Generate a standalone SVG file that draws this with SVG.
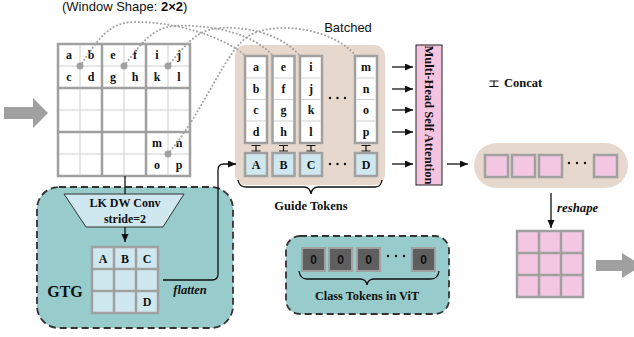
<svg xmlns="http://www.w3.org/2000/svg" width="634" height="337" viewBox="0 0 634 337">
<defs>
<style>
.sb{font-family:"Liberation Serif","Times New Roman",serif;font-weight:bold;fill:#111}
.sr{font-family:"Liberation Serif","Times New Roman",serif;fill:#111}
.sa{font-family:"Liberation Sans",Arial,sans-serif;fill:#111}
.c{text-anchor:middle}
.lt{font-size:12px}
.thick{fill:none;stroke:#a0a0a0;stroke-width:2.5}
.thin{fill:none;stroke:#cfcfcf;stroke-width:1}
.col{fill:#fff;stroke:#a0a0a0;stroke-width:2.5}
.tok{fill:#cfe7ee;stroke:#a0a0a0;stroke-width:2.5}
.pk{fill:#f3c7e1;stroke:#a0a0a0;stroke-width:2.5}
.ct{fill:#5e5e5e;stroke:#a0a0a0;stroke-width:2}
.tan{fill:#e7d8ce}
.teal{fill:#98cbcb;stroke:#333;stroke-width:1.8;stroke-dasharray:7 4}
.dot{fill:none;stroke:#a3a3a3;stroke-width:2;stroke-dasharray:0.1 3.6;stroke-linecap:round}
.ln{fill:none;stroke:#111;stroke-width:1.3}
.cc{fill:none;stroke:#111;stroke-width:1.2}
</style>
<marker id="ah" markerUnits="userSpaceOnUse" markerWidth="9" markerHeight="8" refX="8" refY="3.5" orient="auto">
<path d="M0,0 L8,3.5 L0,7 z" fill="#111"/>
</marker>
<g id="cat"><path d="M-4.5,0 H4.5 M0,0 V5.5 M-4.5,5.5 H4.5" class="cc"/></g>
</defs>
<rect width="634" height="337" fill="#fff"/>

<text x="62" y="11" class="sa" font-size="13">(Window Shape: <tspan font-weight="bold">2×2</tspan>)</text>

<g id="input-arrow"><polygon points="4,107 33,107 33,98 48,113 33,128 33,119 4,119" fill="#a0a0a0"/></g>

<g id="input-grid">
<rect x="58" y="44" width="132" height="132" fill="#fff"/>
<path class="thin" d="M80,44V176 M124,44V176 M168,44V176 M58,66H190 M58,110H190 M58,154H190"/>
<path class="thick" d="M58,44H190V176H58Z M102,44V176 M146,44V176 M58,88H190 M58,132H190"/>
<g class="sb c lt">
<text x="69" y="59">a</text><text x="91" y="59">b</text><text x="69" y="81">c</text><text x="91" y="81">d</text>
<text x="113" y="59">e</text><text x="135" y="59">f</text><text x="113" y="81">g</text><text x="135" y="81">h</text>
<text x="157" y="59">i</text><text x="179" y="59">j</text><text x="157" y="81">k</text><text x="179" y="81">l</text>
<text x="157" y="147">m</text><text x="179" y="147">n</text><text x="157" y="169">o</text><text x="179" y="169">p</text>
</g>
<g fill="#a0a0a0"><circle cx="80" cy="66" r="3.5"/><circle cx="124" cy="66" r="3.5"/><circle cx="168" cy="66" r="3.5"/><circle cx="168" cy="154" r="3.5"/></g>
</g>

<g id="batched">
<text x="348" y="32" class="sa c" font-size="13">Batched</text>
<rect x="235" y="45" width="150" height="140" rx="11" class="tan"/>
<g>
<rect x="245" y="56" width="22" height="87" class="col"/>
<rect x="272.5" y="56" width="22" height="87" class="col"/>
<rect x="300" y="56" width="22" height="87" class="col"/>
<rect x="355" y="56" width="22" height="87" class="col"/>
<path class="thin" d="M246.5,78H265.5 M246.5,99.5H265.5 M246.5,121H265.5 M274,78H293 M274,99.5H293 M274,121H293 M301.5,78H320.5 M301.5,99.5H320.5 M301.5,121H320.5 M356.5,78H375.5 M356.5,99.5H375.5 M356.5,121H375.5"/>
<g class="sb c lt">
<text x="256" y="71">a</text><text x="256" y="93">b</text><text x="256" y="114">c</text><text x="256" y="136">d</text>
<text x="283.5" y="71">e</text><text x="283.5" y="93">f</text><text x="283.5" y="114">g</text><text x="283.5" y="136">h</text>
<text x="311" y="71">i</text><text x="311" y="93">j</text><text x="311" y="114">k</text><text x="311" y="136">l</text>
<text x="366" y="71">m</text><text x="366" y="93">n</text><text x="366" y="114">o</text><text x="366" y="136">p</text>
</g>
<use href="#cat" x="256" y="145.5"/><use href="#cat" x="283.5" y="145.5"/><use href="#cat" x="311" y="145.5"/><use href="#cat" x="366" y="145.5"/>
<rect x="245" y="153" width="22" height="23" class="tok"/>
<rect x="272.5" y="153" width="22" height="23" class="tok"/>
<rect x="300" y="153" width="22" height="23" class="tok"/>
<rect x="355" y="153" width="22" height="23" class="tok"/>
<g class="sb c lt">
<text x="256" y="169">A</text><text x="283.5" y="169">B</text><text x="311" y="169">C</text><text x="366" y="169">D</text>
</g>
<g fill="#111"><circle cx="330" cy="98" r="1.2"/><circle cx="337.5" cy="98" r="1.2"/><circle cx="345" cy="98" r="1.2"/>
<circle cx="330" cy="164" r="1.2"/><circle cx="337.5" cy="164" r="1.2"/><circle cx="345" cy="164" r="1.2"/></g>
</g>
<path class="ln" d="M238,180 Q239,187 246,187 L304,187 Q310,187 311,194 Q312,187 318,187 L375,187 Q381,187 382,180"/>
<text x="311" y="210" class="sb c" font-size="12.5">Guide Tokens</text>
</g>

<g id="mhsa">
<rect x="416" y="45" width="26" height="140" fill="#f4c5e1" stroke="#222" stroke-width="1"/>
<text transform="translate(429,115) rotate(90)" class="sb c" font-size="12.5" y="4.5">Multi-Head Self Attention</text>
</g>

<g id="legend">
<use href="#cat" x="494" y="81"/>
<text x="504" y="87" class="sb" font-size="12.5">Concat</text>
</g>

<g id="output-seq">
<rect x="474" y="143" width="154" height="45" rx="22.5" class="tan"/>
<rect x="485" y="155" width="23" height="22" class="pk"/>
<rect x="512" y="155" width="23" height="22" class="pk"/>
<rect x="539" y="155" width="23" height="22" class="pk"/>
<rect x="594" y="155" width="23" height="22" class="pk"/>
<g fill="#111"><circle cx="569" cy="163" r="1.2"/><circle cx="577" cy="163" r="1.2"/><circle cx="585" cy="163" r="1.2"/></g>
</g>

<g id="output-grid">
<rect x="517" y="231" width="66" height="66" fill="#f3c7e1"/>
<path class="thick" d="M517,231H583V297H517Z M539,231V297 M561,231V297 M517,253H583 M517,275H583"/>
</g>

<g id="output-arrow"><polygon points="596,260 622,260 622,253 642,265.5 622,278 622,271 596,271" fill="#a0a0a0"/></g>

<g id="gtg">
<rect x="37" y="187" width="196" height="141" rx="22" class="teal"/>
<polygon points="64,194 184,194 163,227 86,227" fill="#cfe7ee" stroke="#333" stroke-width="1"/>
<text x="125" y="207" class="sb c" font-size="12">LK DW Conv</text>
<text x="125" y="223" class="sb c" font-size="12">stride=2</text>
<rect x="92" y="247" width="66" height="66" fill="#cfe7ee"/>
<path class="thick" d="M92,247H158V313H92Z M114,247V313 M136,247V313 M92,269H158 M92,291H158"/>
<g class="sb c lt"><text x="103" y="263">A</text><text x="125" y="263">B</text><text x="147" y="263">C</text><text x="147" y="306">D</text></g>
<text x="65" y="297" class="sb c" font-size="16">GTG</text>
<text x="190" y="294" class="sb c" font-size="12.5" font-style="italic">flatten</text>
</g>

<g id="class-tokens">
<rect x="286" y="236" width="163" height="78" rx="14" class="teal"/>
<rect x="302" y="248" width="23" height="23" class="ct"/>
<rect x="329" y="248" width="23" height="23" class="ct"/>
<rect x="357" y="248" width="23" height="23" class="ct"/>
<rect x="412" y="248" width="23" height="23" class="ct"/>
<g class="sa c" font-size="12" font-weight="bold"><text x="313.5" y="264">0</text><text x="340.5" y="264">0</text><text x="368.5" y="264">0</text><text x="423.5" y="264">0</text></g>
<g fill="#111"><circle cx="388" cy="256" r="1.2"/><circle cx="396" cy="256" r="1.2"/><circle cx="404" cy="256" r="1.2"/></g>
<path class="ln" d="M299,271 Q300,279 307,279 L360,279 Q366,279 367,285 Q368,279 374,279 L431,279 Q438,279 439,271"/>
<text x="367" y="300" class="sb c" font-size="12.3">Class Tokens in ViT</text>
</g>

<g id="connectors">
<path class="dot" d="M80,66 C98,40 108,22 135,22 C180,22 225,38 246,56"/>
<path class="dot" d="M124,66 C140,46 150,28 175,26 C215,24 255,35 273,56"/>
<path class="dot" d="M168,66 C185,46 195,30 220,28 C255,26 285,38 300,56"/>
<path class="dot" d="M168,154 C205,110 225,50 250,35 C280,20 335,30 356,56"/>
<path class="ln" d="M125,176V194"/>
<path class="ln" d="M125,227V242" marker-end="url(#ah)"/>
<path class="ln" d="M163,280 L212,280 Q218,280 218,274 L218,170 Q218,164 224,164 L236,164" marker-end="url(#ah)"/>
<path class="ln" d="M392,67H413" marker-end="url(#ah)"/>
<path class="ln" d="M392,89H413" marker-end="url(#ah)"/>
<path class="ln" d="M392,110H413" marker-end="url(#ah)"/>
<path class="ln" d="M392,132H413" marker-end="url(#ah)"/>
<path class="ln" d="M392,164H413" marker-end="url(#ah)"/>
<path class="ln" d="M447,164H468" marker-end="url(#ah)"/>
<path class="ln" d="M551,193V228" marker-end="url(#ah)"/>
<text x="557" y="212" class="sb" font-size="12.8" font-style="italic">reshape</text>
</g>
</svg>
